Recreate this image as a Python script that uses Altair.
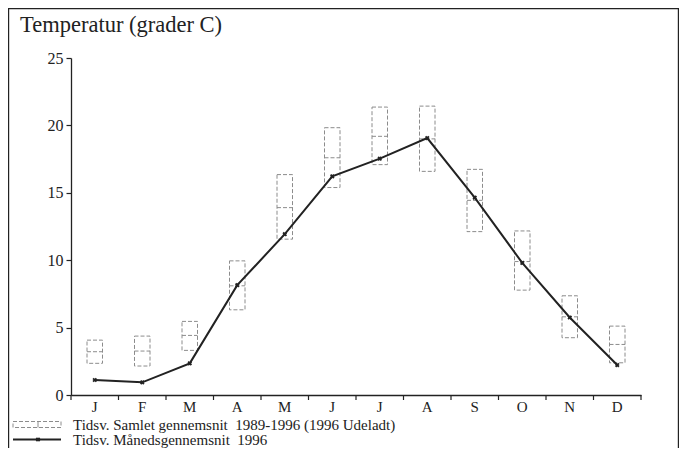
import altair as alt
import pandas as pd

# ---- data ----
months = ["Jan", "Feb", "Mar", "Apr", "Maj", "Jun", "Jul", "Aug", "Sep", "Okt", "Nov", "Dec"]
box_low = [2.35, 2.15, 3.31, 6.32, 11.56, 15.39, 17.09, 16.59, 12.12, 7.78, 4.25, 2.39]
box_mid = [3.21, 3.26, 4.42, 8.10, 13.90, 17.60, 19.19, 19.00, 14.44, 9.90, 5.80, 3.75]
box_high = [4.07, 4.37, 5.46, 9.95, 16.35, 19.83, 21.36, 21.43, 16.74, 12.17, 7.36, 5.11]
temp_1996 = [1.11, 0.94, 2.35, 8.15, 11.93, 16.22, 17.53, 19.06, 14.64, 9.80, 5.75, 2.22]
y_ticks = [0, 5, 10, 15, 20, 25]
title_text = "Temperatur (grader C)"
legend_labels = [
    "Tidsv. Samlet gennemsnit\u00a0 1989-1996 (1996 Udeladt)",
    "Tidsv. Månedsgennemsnit\u00a0 1996",
]

FONT = "Liberation Serif"
INK = "#222222"
BOXC = "#8c8c8c"
W, H = 570, 337
STEP = W / len(months)
BOXW = 15.5

df = pd.DataFrame({"month": months, "low": box_low, "mid": box_mid,
                   "high": box_high, "t": temp_1996})

x_enc = alt.X(
    "month:N", sort=months,
    scale=alt.Scale(type="band", paddingInner=0, paddingOuter=0),
    axis=alt.Axis(title="", ticks=False, labelExpr="substring(datum.label, 0, 1)",
                  labelAngle=0, labelFont=FONT, labelFontSize=15, labelColor=INK,
                  labelPadding=4, domainColor=INK, domainWidth=1.3),
)
y_scale = alt.Scale(domain=[0, 25], nice=False)
y_axis = alt.Axis(title="", values=y_ticks, grid=False, tickSize=5, tickColor=INK,
                  tickWidth=1.2, labelPadding=3, labelFont=FONT, labelFontSize=16,
                  labelColor=INK, domainColor=INK, domainWidth=1.3)

base = alt.Chart(df)

boxes = base.mark_bar(width=BOXW, fill="white", fillOpacity=0, stroke=BOXC,
                      strokeWidth=1, strokeDash=[4, 2]).encode(
    x=x_enc, y=alt.Y("low:Q", scale=y_scale, axis=y_axis), y2="high:Q")

mids = base.mark_rule(stroke=BOXC, strokeWidth=1, strokeDash=[4, 2],
                      xOffset=-BOXW / 2, x2Offset=BOXW / 2).encode(
    x=x_enc, x2="month:N", y="mid:Q")

line = base.mark_line(color=INK, strokeWidth=2).encode(x=x_enc, y="t:Q")
pts = base.mark_point(shape="cross", angle=45, size=22, filled=True, color=INK,
                      opacity=1).encode(x=x_enc, y="t:Q")

xticks = base.mark_rule(color=INK, strokeWidth=1.2, xOffset=-STEP / 2).encode(
    x=x_enc, y=alt.value(H), y2=alt.value(H + 5))
xtick_end = alt.Chart(pd.DataFrame({"month": [months[-1]]})).mark_rule(
    color=INK, strokeWidth=1.2, xOffset=STEP / 2).encode(
    x=x_enc, y=alt.value(H), y2=alt.value(H + 5))

frame = alt.Chart(pd.DataFrame({"k": [0]})).mark_rect(
    fill="white", fillOpacity=0, stroke=INK, strokeWidth=1.2).encode(
    x=alt.value(-62.4), x2=alt.value(607.4), y=alt.value(-49.4), y2=alt.value(400))

title = alt.Chart(pd.DataFrame({"txt": [title_text]})).mark_text(
    align="left", baseline="alphabetic", font=FONT, fontSize=22.5, color=INK).encode(
    text="txt:N", x=alt.value(-51), y=alt.value(-26))

leg1_txt = alt.Chart(pd.DataFrame({"txt": [legend_labels[0]]})).mark_text(
    align="left", baseline="alphabetic", font=FONT, fontSize=15, color=INK).encode(
    text="txt:N", x=alt.value(2), y=alt.value(371.5))
leg2_txt = alt.Chart(pd.DataFrame({"txt": [legend_labels[1]]})).mark_text(
    align="left", baseline="alphabetic", font=FONT, fontSize=15, color=INK).encode(
    text="txt:N", x=alt.value(2), y=alt.value(386.5))

leg1_box = alt.Chart(pd.DataFrame({"k": [0]})).mark_rect(
    fill="white", fillOpacity=0, stroke=BOXC, strokeWidth=1, strokeDash=[4, 2]).encode(
    x=alt.value(-58), x2=alt.value(-10), y=alt.value(363.5), y2=alt.value(369.5))
leg1_div = alt.Chart(pd.DataFrame({"k": [0]})).mark_rule(
    color=BOXC, strokeWidth=1).encode(
    x=alt.value(-33), y=alt.value(363.5), y2=alt.value(369.5))
leg2_line = alt.Chart(pd.DataFrame({"k": [0]})).mark_rule(
    color=INK, strokeWidth=2).encode(
    x=alt.value(-58), x2=alt.value(-10), y=alt.value(381.5))
leg2_pt = alt.Chart(pd.DataFrame({"k": [0]})).mark_point(
    shape="cross", angle=45, size=22, filled=True, color=INK, opacity=1).encode(
    x=alt.value(-33), y=alt.value(381.5))

chart = alt.layer(
    frame, boxes, mids, line, pts, xticks, xtick_end, title,
    leg1_box, leg1_div, leg1_txt, leg2_line, leg2_pt, leg2_txt,
).properties(
    width=W, height=H,
    autosize=alt.AutoSizeParams(type="none"),
    padding={"left": 63, "top": 50, "right": 38, "bottom": 53},
    background="white",
).configure_view(stroke="transparent")

chart.save("out.html", embed_options={"renderer": "svg", "actions": False})
